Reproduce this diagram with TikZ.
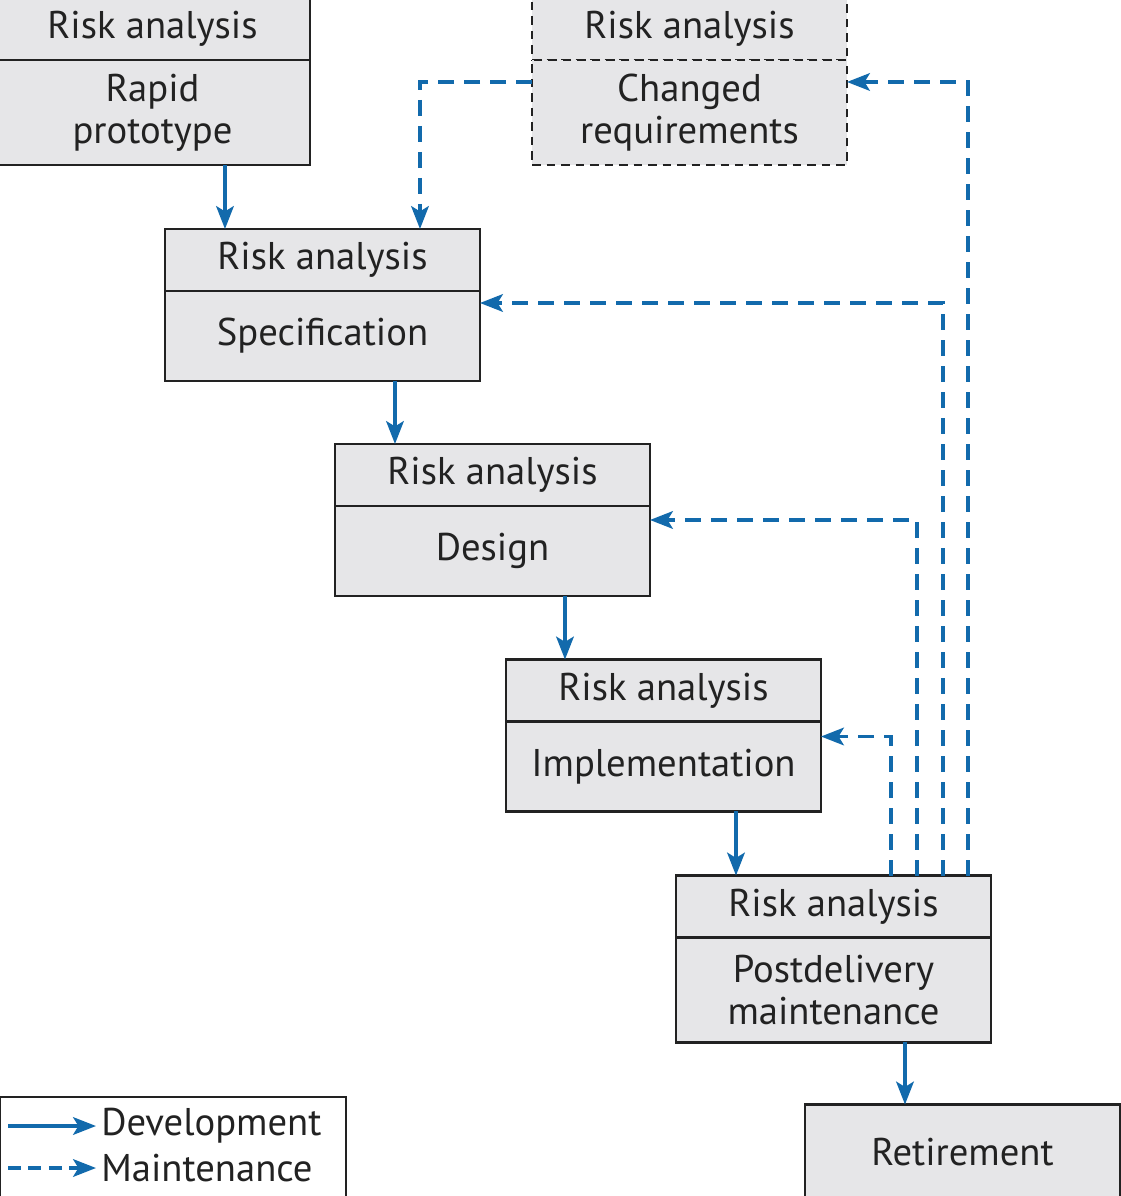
\documentclass[tikz,border=0pt]{standalone}
\usepackage{fontspec}
\setmainfont{PT Sans}
\usetikzlibrary{arrows.meta,positioning}
\definecolor{flowblue}{RGB}{18,106,172}
\definecolor{boxgray}{RGB}{230,230,232}
\definecolor{inkgray}{RGB}{34,34,34}
\begin{document}
\begin{tikzpicture}[x=0.02cm, y=-0.02cm,
    every node/.style={font=\fontsize{22}{24}\selectfont, text=inkgray},
    head/.style={draw=inkgray, line width=1.4pt, fill=boxgray, outer sep=0pt, inner sep=0pt,
                 minimum width=6.3cm, minimum height=1.24cm, align=center},
    body/.style={head, minimum height=1.8cm},
    tall/.style={head, minimum height=2.1cm},
    ghost/.style={dash pattern=on 0.17cm off 0.12cm},
    dev/.style={-{Stealth[length=13pt, width=10pt, inset=3pt]}, flowblue, line width=2.1pt},
    maint/.style={dev, dash pattern=on 0.32cm off 0.2cm}]
    \useasboundingbox (0,0) rectangle (1120,1196);

    % phases
    \node[head] (rapidR) at (152.5,29) {Risk analysis};
    \node[tall, below=0pt of rapidR] (rapid) {Rapid\\prototype};

    \node[head, ghost] (chgR) at (689.5,29) {Risk analysis};
    \node[tall, ghost, below=0pt of chgR] (chg) {Changed\\requirements};

    \node[head] (specR) at (322.5,260) {Risk analysis};
    \node[body, below=0pt of specR] (spec) {Specification};

    \node[head] (designR) at (492.5,475) {Risk analysis};
    \node[body, below=0pt of designR] (design) {Design};

    \node[head] (implR) at (663.5,690.5) {Risk analysis};
    \node[body, below=0pt of implR] (impl) {Implementation};

    \node[head] (postR) at (833.5,906.5) {Risk analysis};
    \node[tall, below=0pt of postR] (post) {Postdelivery\\maintenance};

    \node[head, minimum height=1.9cm] (retire) at (962.5,1152) {Retirement};

    % development
    \draw[dev] ([xshift=1.45cm]rapid.south) -- ([xshift=1.45cm]rapid.south |- specR.north);
    \draw[dev] ([xshift=1.45cm]spec.south) -- ([xshift=1.45cm]spec.south |- designR.north);
    \draw[dev] ([xshift=1.45cm]design.south) -- ([xshift=1.45cm]design.south |- implR.north);
    \draw[dev] ([xshift=1.45cm]impl.south) -- ([xshift=1.45cm]impl.south |- postR.north);
    \draw[dev] ([xshift=1.43cm]post.south) -- ([xshift=1.43cm]post.south |- retire.north);

    % maintenance
    \draw[maint] ([yshift=-0.44cm]chg.north west) -| ([xshift=1.95cm]specR.north);
    \draw[maint] ([xshift=2.69cm]postR.north) |- ([yshift=-0.44cm]chg.north east);
    \draw[maint] ([xshift=2.19cm]postR.north) |- ([yshift=-0.24cm]spec.north east);
    \draw[maint] ([xshift=1.67cm]postR.north) |- ([yshift=-0.28cm]design.north east);
    \draw[maint] ([xshift=1.15cm]postR.north) |- ([yshift=-0.30cm]impl.north east);

    % legend
    \node[draw=inkgray, line width=1.4pt, minimum width=6.92cm, minimum height=2.1cm, inner sep=0pt] (legend) at (173,1149.5) {};
    \node[anchor=west, inner sep=0.1cm] (devtxt) at (96,1126) {Development};
    \node[anchor=west, inner sep=0.1cm] (mnttxt) at (96,1168) {Maintenance};
    \coordinate (devfrom) at (8,1126);
    \coordinate (mntfrom) at (8,1168);
    \draw[dev] (devfrom) -- (devtxt);
    \draw[maint, dash pattern=on 0.26cm off 0.15cm] (mntfrom) -- (mnttxt);
\end{tikzpicture}
\end{document}
